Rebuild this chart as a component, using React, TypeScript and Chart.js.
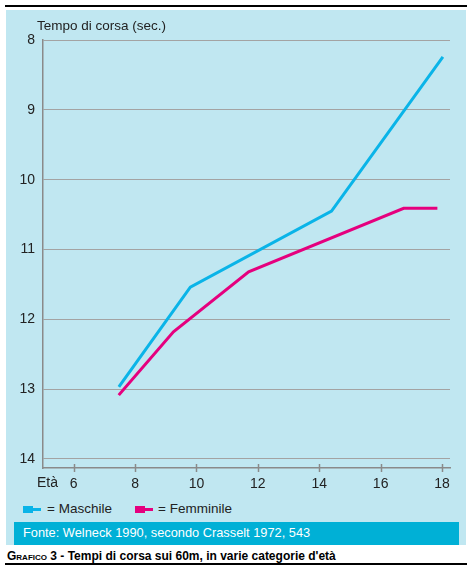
import React, { useEffect, useRef } from "react";
import { Chart, registerables } from "chart.js";

Chart.register(...registerables);

// ---- Data ----
const seriesNames = ["Maschile", "Femminile"];
const seriesColors = ["#0ab4e8", "#e5007e"];
const maschileAges = [7.5, 9.8, 14.4, 18.0];
const maschileTimes = [12.95, 11.54, 10.45, 8.26];
const femminileAges = [7.5, 9.25, 11.7, 16.75, 17.8];
const femminileTimes = [13.07, 12.18, 11.32, 10.41, 10.41];
const xTicks = [6, 8, 10, 12, 14, 16, 18];
const yTicks = [8, 9, 10, 11, 12, 13, 14];

const yTitle = "Tempo di corsa (sec.)";
const xTitle = "Età";
const sourceText = "Fonte: Welneck 1990, secondo Crasselt 1972, 543";
const captionLead = "Grafico 3";
const captionRest = " - Tempi di corsa sui 60m, in varie categorie d'età";

const FONT = "'Liberation Sans', Arial, sans-serif";
const AXIS_COLOR = "#8a8a8a";

const crossTicks = {
  id: "crossTicks",
  afterDraw(chart: any) {
    const xs = chart.scales.x;
    const ctx = chart.ctx;
    const y = chart.chartArea.bottom;
    ctx.save();
    ctx.strokeStyle = AXIS_COLOR;
    ctx.lineWidth = 1.5;
    xs.ticks.forEach((t: any) => {
      const px = Math.round(xs.getPixelForValue(t.value)) + 0.5;
      ctx.beginPath();
      ctx.moveTo(px, y - 4);
      ctx.lineTo(px, y + 4);
      ctx.stroke();
    });
    ctx.restore();
  },
};

export default function App() {
  const ref = useRef<HTMLCanvasElement | null>(null);

  useEffect(() => {
    if (!ref.current) return;
    const chart = new Chart(ref.current, {
      type: "line",
      data: {
        datasets: [
          {
            label: seriesNames[0],
            data: maschileAges.map((a, i) => ({ x: a, y: maschileTimes[i] })),
            borderColor: seriesColors[0],
            borderWidth: 3,
            pointRadius: 0,
            tension: 0,
            borderCapStyle: "square",
          },
          {
            label: seriesNames[1],
            data: femminileAges.map((a, i) => ({ x: a, y: femminileTimes[i] })),
            borderColor: seriesColors[1],
            borderWidth: 3,
            pointRadius: 0,
            tension: 0,
            borderCapStyle: "square",
          },
        ],
      },
      options: {
        animation: false,
        responsive: false,
        devicePixelRatio: 1,
        layout: { padding: { top: 30, right: 16, left: 0, bottom: 0 } },
        plugins: {
          legend: { display: false },
          tooltip: { enabled: false },
          title: { display: false },
        },
        scales: {
          x: {
            type: "linear",
            min: 5,
            max: 18.26,
            afterBuildTicks: (s: any) => {
              s.ticks = xTicks.map((v) => ({ value: v }));
            },
            afterFit: (s: any) => {
              s.height = 30;
            },
            grid: { drawOnChartArea: false, drawTicks: false },
            border: { display: true, color: AXIS_COLOR, width: 1.5 },
            ticks: {
              padding: 8,
              color: "#222",
              font: { family: FONT, size: 14 },
              maxRotation: 0,
            },
          },
          y: {
            type: "linear",
            reverse: true,
            min: 8,
            max: 14.13,
            afterBuildTicks: (s: any) => {
              s.ticks = yTicks.map((v) => ({ value: v }));
            },
            afterFit: (s: any) => {
              s.width = 37;
            },
            grid: { color: "#a3a3a3", lineWidth: 1, drawTicks: false },
            border: { display: true, color: AXIS_COLOR, width: 1.5 },
            ticks: {
              padding: 8,
              color: "#222",
              font: { family: FONT, size: 14 },
            },
          },
        },
      },
      plugins: [crossTicks],
    });
    return () => chart.destroy();
  }, []);

  const text = (extra: React.CSSProperties): React.CSSProperties => ({
    position: "absolute",
    fontFamily: FONT,
    fontSize: 13.5,
    lineHeight: "16px",
    color: "#222",
    whiteSpace: "nowrap",
    ...extra,
  });

  const marker = (left: number, color: string) => (
    <>
      <div style={{ position: "absolute", left, top: 506, width: 10, height: 7, background: color }} />
      <div style={{ position: "absolute", left: left + 9, top: 508, width: 9, height: 3, background: color }} />
    </>
  );

  return (
    <div style={{ position: "absolute", left: 0, top: 0, width: 470, height: 568, background: "#fff", overflow: "hidden" }}>
      <div style={{ position: "absolute", left: 5, top: 5, width: 462, height: 2, background: "#000" }} />
      <div style={{ position: "absolute", left: 6, top: 10, width: 460, height: 535, background: "#c0e7f1" }} />
      <canvas
        ref={ref}
        width={460}
        height={488}
        style={{ position: "absolute", left: 6, top: 10, width: 460, height: 488 }}
      />
      <div style={text({ left: 37, top: 18 })}>{yTitle}</div>
      <div style={text({ left: 37, top: 474, fontSize: 14 })}>{xTitle}</div>
      {marker(23, seriesColors[0])}
      <div style={text({ left: 47, top: 501 })}>= {seriesNames[0]}</div>
      {marker(135, seriesColors[1])}
      <div style={text({ left: 158, top: 501 })}>= {seriesNames[1]}</div>
      <div style={{ position: "absolute", left: 14, top: 522, width: 445, height: 23, background: "#00b0d6" }} />
      <div style={text({ left: 23, top: 525, color: "#fff", fontSize: 12.8 })}>{sourceText}</div>
      <div style={text({ left: 7, top: 548, fontSize: 12, fontWeight: "bold", color: "#000" })}>
        <span style={{ fontVariant: "small-caps" }}>{captionLead}</span>
        {captionRest}
      </div>
      <div style={{ position: "absolute", left: 5, top: 563, width: 462, height: 2, background: "#000" }} />
    </div>
  );
}
